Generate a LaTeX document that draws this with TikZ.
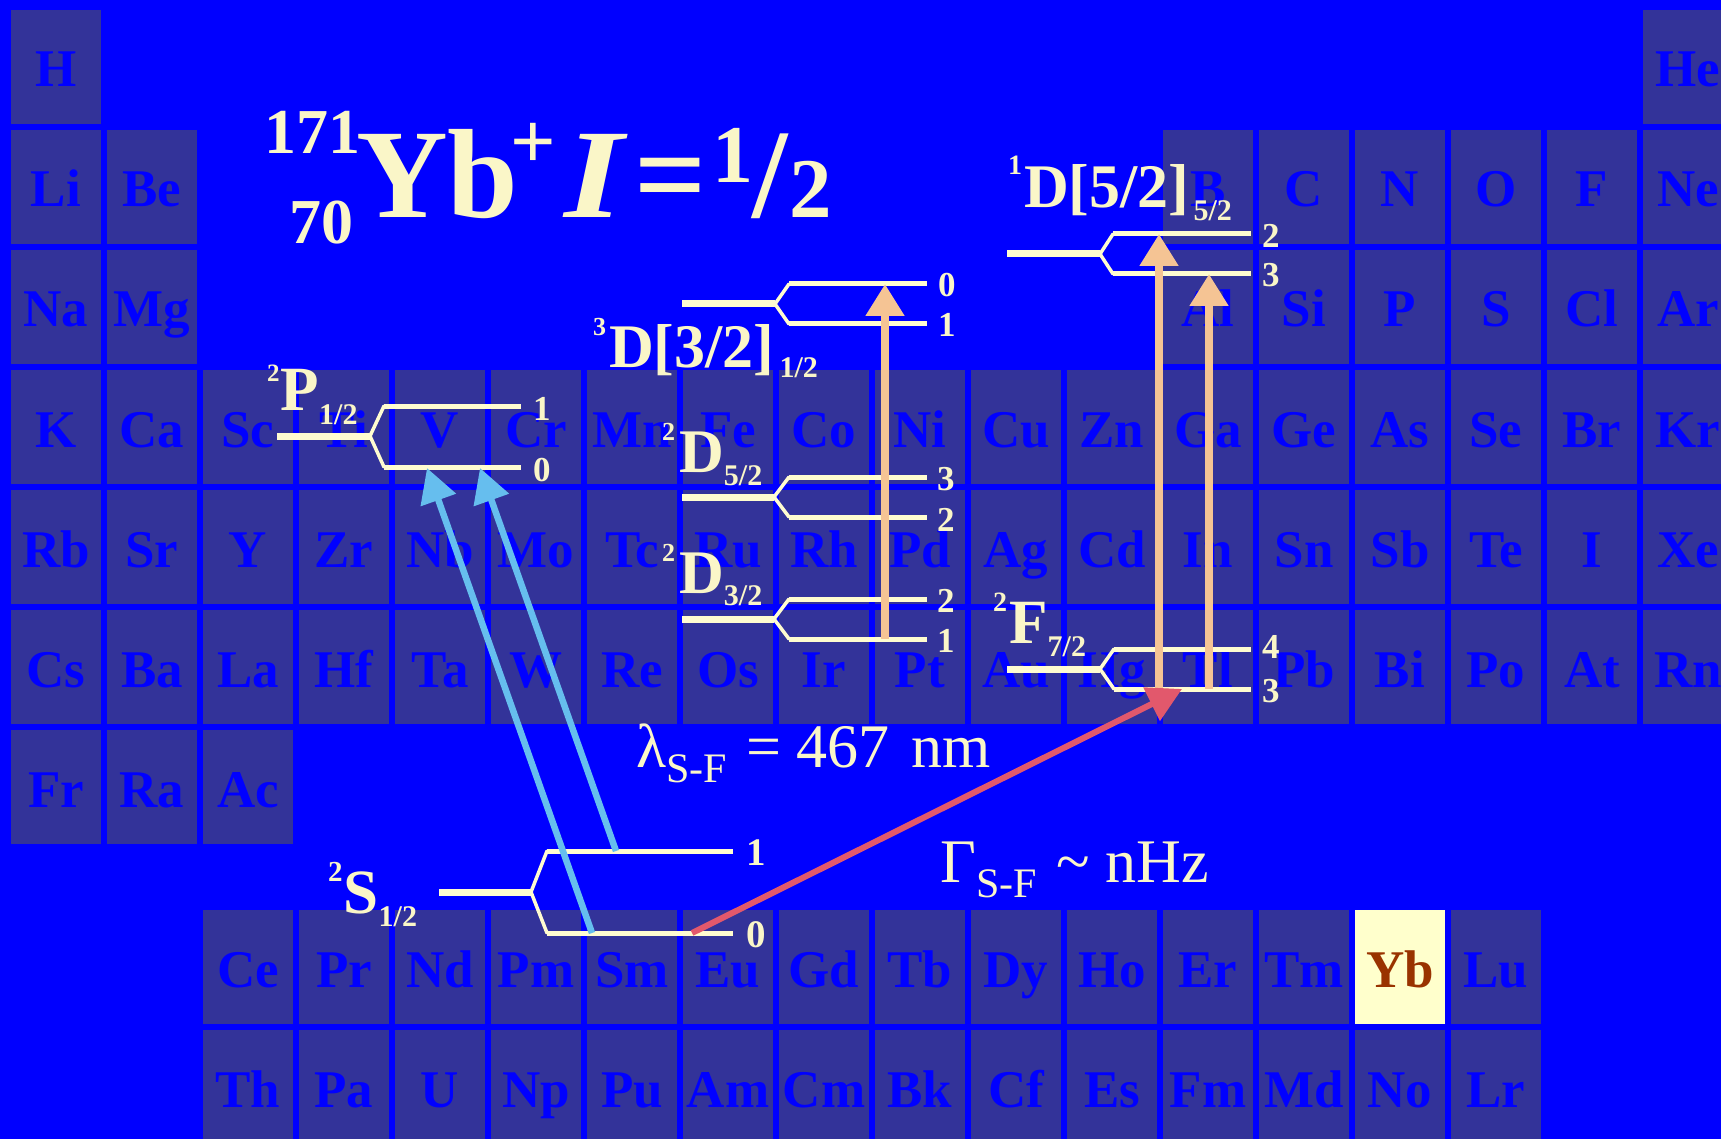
\documentclass[tikz,border=0pt]{standalone}
\usepackage{fontspec}
\usepackage{graphicx}
\setmainfont{Liberation Serif}
\usetikzlibrary{arrows.meta}
\definecolor{bg}{RGB}{0,0,255}
\definecolor{cellc}{RGB}{51,51,153}
\definecolor{ybcell}{RGB}{255,255,204}
\definecolor{ybtext}{RGB}{153,51,0}
\definecolor{cream}{RGB}{250,246,200}
\definecolor{lvl}{RGB}{255,252,208}
\definecolor{lblue}{RGB}{102,190,238}
\definecolor{peach}{RGB}{245,196,148}
\definecolor{redarr}{RGB}{226,88,108}
\newcommand{\fs}[1]{\fontsize{#1}{#1}\selectfont}
\newcommand{\elrow}[2]{%
  \foreach \c/\n in {#2} {
    \fill[cellc] ({11+96*\c},#1) rectangle ++(90,114);
    \node[eltext] (el-\n) at ({56+96*\c},{#1+77}) {\n};
  }}
\newcommand{\enlevel}[8]{%
  \coordinate (#1-a) at (#2,#4);
  \coordinate (#1-b) at (#3,#4);
  \coordinate (#1-ua) at (#5,#7);
  \coordinate (#1-ub) at (#6,#7);
  \coordinate (#1-la) at (#5,#8);
  \coordinate (#1-lb) at (#6,#8);
  \draw[lvlmain] (#1-a) -- (#1-b);
  \draw[lvlfork] (#1-b) -- (#1-ua);
  \draw[lvlfork] (#1-b) -- (#1-la);
  \draw[lvlsub] (#1-ua) -- (#1-ub);
  \draw[lvlsub] (#1-la) -- (#1-lb);
}
\begin{document}
\begin{tikzpicture}[x=1pt,y=-1pt,
  eltext/.style={text=bg, font=\fs{53}\bfseries, inner sep=0pt, anchor=base},
  lvlmain/.style={draw=lvl, line width=7pt},
  lvlsub/.style={draw=lvl, line width=5pt},
  lvlfork/.style={draw=lvl, line width=3.5pt, line cap=round},
  lbl/.style={text=cream, inner sep=0pt, anchor=base west, font=\bfseries},
  num/.style={text=cream, inner sep=0pt, anchor=base west, font=\fs{35}\bfseries},
  snum/.style={num, font=\fs{39}\bfseries},
  txt/.style={text=cream, inner sep=0pt, anchor=base west, font=\fs{62}},
  ttl/.style={text=cream, inner sep=0pt, anchor=base west},
  orangearr/.style={draw=peach, line width=8pt, -{Triangle[length=32pt,width=37pt]}},
  bluearr/.style={draw=lblue, line width=6.5pt, -{Triangle[length=34pt,width=36pt]}},
  redarrow/.style={draw=redarr, line width=6pt, -{Triangle[length=34pt,width=36pt]}}
]
\useasboundingbox (0,0) rectangle (1721,1139);
\fill[bg] (0,0) rectangle (1721,1139);
% periodic table
\elrow{10}{0/H,17/He}
\elrow{130}{0/Li,1/Be,12/B,13/C,14/N,15/O,16/F,17/Ne}
\elrow{250}{0/Na,1/Mg,12/Al,13/Si,14/P,15/S,16/Cl,17/Ar}
\elrow{370}{0/K,1/Ca,2/Sc,3/Ti,4/V,5/Cr,6/Mn,7/Fe,8/Co,9/Ni,10/Cu,11/Zn,12/Ga,13/Ge,14/As,15/Se,16/Br,17/Kr}
\elrow{490}{0/Rb,1/Sr,2/Y,3/Zr,4/Nb,5/Mo,6/Tc,7/Ru,8/Rh,9/Pd,10/Ag,11/Cd,12/In,13/Sn,14/Sb,15/Te,16/I,17/Xe}
\elrow{610}{0/Cs,1/Ba,2/La,3/Hf,4/Ta,5/W,6/Re,7/Os,8/Ir,9/Pt,10/Au,11/Hg,12/Tl,13/Pb,14/Bi,15/Po,16/At,17/Rn}
\elrow{730}{0/Fr,1/Ra,2/Ac}
\elrow{910}{2/Ce,3/Pr,4/Nd,5/Pm,6/Sm,7/Eu,8/Gd,9/Tb,10/Dy,11/Ho,12/Er,13/Tm,15/Lu}
\elrow{1030}{2/Th,3/Pa,4/U,5/Np,6/Pu,7/Am,8/Cm,9/Bk,10/Cf,11/Es,12/Fm,13/Md,14/No,15/Lr}
\fill[ybcell] (1355,910) rectangle ++(90,114);
\node[eltext, text=ybtext] (el-Yb) at (1400,987) {Yb};
% levels
\enlevel{P}{277}{370}{436}{384}{521}{406}{467}
\enlevel{Dt}{682}{775}{304}{789}{927}{284}{324}
\enlevel{Dfive}{682}{774}{497}{789}{927}{477}{517}
\enlevel{Dthree}{682}{774}{619}{789}{927}{599}{639}
\enlevel{Done}{1007}{1100}{254}{1113}{1251}{234}{274}
\enlevel{F}{1007}{1100}{669}{1114}{1251}{649}{689}
\enlevel{S}{439}{531}{892}{547}{733}{851}{933}
% arrow end points
\coordinate (o1s) at (885,639); \coordinate (o1e) at (885,284);
\coordinate (o2s) at (1159,689); \coordinate (o2e) at (1159,234);
\coordinate (o3s) at (1209,689); \coordinate (o3e) at (1209,274);
\coordinate (b1s) at (592,933); \coordinate (b1e) at (427,468);
\coordinate (b2s) at (616,851); \coordinate (b2e) at (480,468);
\coordinate (rs) at (692,933); \coordinate (re) at (1182,689);
\draw[orangearr] (o1s) -- (o1e);
\draw[orangearr] (o2s) -- (o2e);
\draw[orangearr] (o3s) -- (o3e);
\draw[bluearr] (b1s) -- (b1e);
\draw[bluearr] (b2s) -- (b2e);
\draw[redarrow] (rs) -- (re);
% state labels
\node[lbl] (lP) at (267,410) {\raisebox{29pt}{\fs{25}2}\kern1pt\fs{63}P\raisebox{-14pt}{\fs{30}1/2}};
\node[lbl] (lDfive) at (662,472) {\raisebox{32pt}{\fs{26}2}\kern4pt\fs{62}D\raisebox{-13pt}{\fs{30}5/2}};
\node[lbl] (lDthree) at (662,593) {\raisebox{32pt}{\fs{26}2}\kern4pt\fs{62}D\raisebox{-12pt}{\fs{30}3/2}};
\node[lbl] (lDt) at (593,367) {\raisebox{32pt}{\fs{26}3}\kern3pt\fs{62}D[3/2]\kern5pt\raisebox{-10pt}{\fs{30}1/2}};
\node[lbl] (lDone) at (1008,208) {\raisebox{33pt}{\fs{28}1}\kern2pt\fs{62}D[5/2]\kern4pt\raisebox{-13pt}{\fs{30}5/2}};
\node[lbl] (lF) at (993,643) {\raisebox{32pt}{\fs{28}2}\kern2pt\fs{63}F\raisebox{-13pt}{\fs{30}7/2}};
\node[lbl] (lS) at (328,913) {\raisebox{32pt}{\fs{29}2}\kern1pt\fs{63}S\raisebox{-13pt}{\fs{30}1/2}};
% level numbers
\node[num] (nP1) at (533,420) {1};
\node[num] (nP0) at (533,481) {0};
\node[num] (nDt0) at (938,297) {0};
\node[num] (nDt1) at (938,337) {1};
\node[num] (nD53) at (937,490) {3};
\node[num] (nD52) at (937,531) {2};
\node[num] (nD32) at (937,612) {2};
\node[num] (nD31) at (937,652) {1};
\node[num] (nDo2) at (1262,248) {2};
\node[num] (nDo3) at (1262,287) {3};
\node[num] (nF4) at (1262,658) {4};
\node[num] (nF3) at (1262,702) {3};
\node[snum] (nS1) at (746,865) {1};
\node[snum] (nS0) at (746,947) {0};
% texts
\node[txt] (lam) at (636,767) {λ\raisebox{-15pt}{\fs{42}S-F}\kern4pt{} = 467\kern6pt{} nm};
\node[txt] (gam) at (940,882) {Γ\raisebox{-15pt}{\fs{42}S-F}\kern4pt{} \textasciitilde{} nHz};
% title
\node[ttl] (t171) at (264,154) {\fs{64}\bfseries 171};
\node[ttl] (t70) at (289,244) {\fs{64}\bfseries 70};
\node[ttl] (tYb) at (356,218) {\fs{127}\bfseries Yb};
\node[ttl] (tplus) at (510,169) {\fs{80}\bfseries +};
\node[ttl] (tI) at (564,218) {\scalebox{1.2}[1]{\fs{127}\bfseries\itshape I}};
\node[ttl] (teq) at (634,218) {\fs{127}\bfseries =};
\node[ttl] (t1) at (712,183) {\fs{82}\bfseries 1};
\node[ttl] (tsl) at (752,218) {\fs{127}\bfseries /};
\node[ttl] (t2) at (789,218) {\fs{85}\bfseries 2};
\end{tikzpicture}
\end{document}
